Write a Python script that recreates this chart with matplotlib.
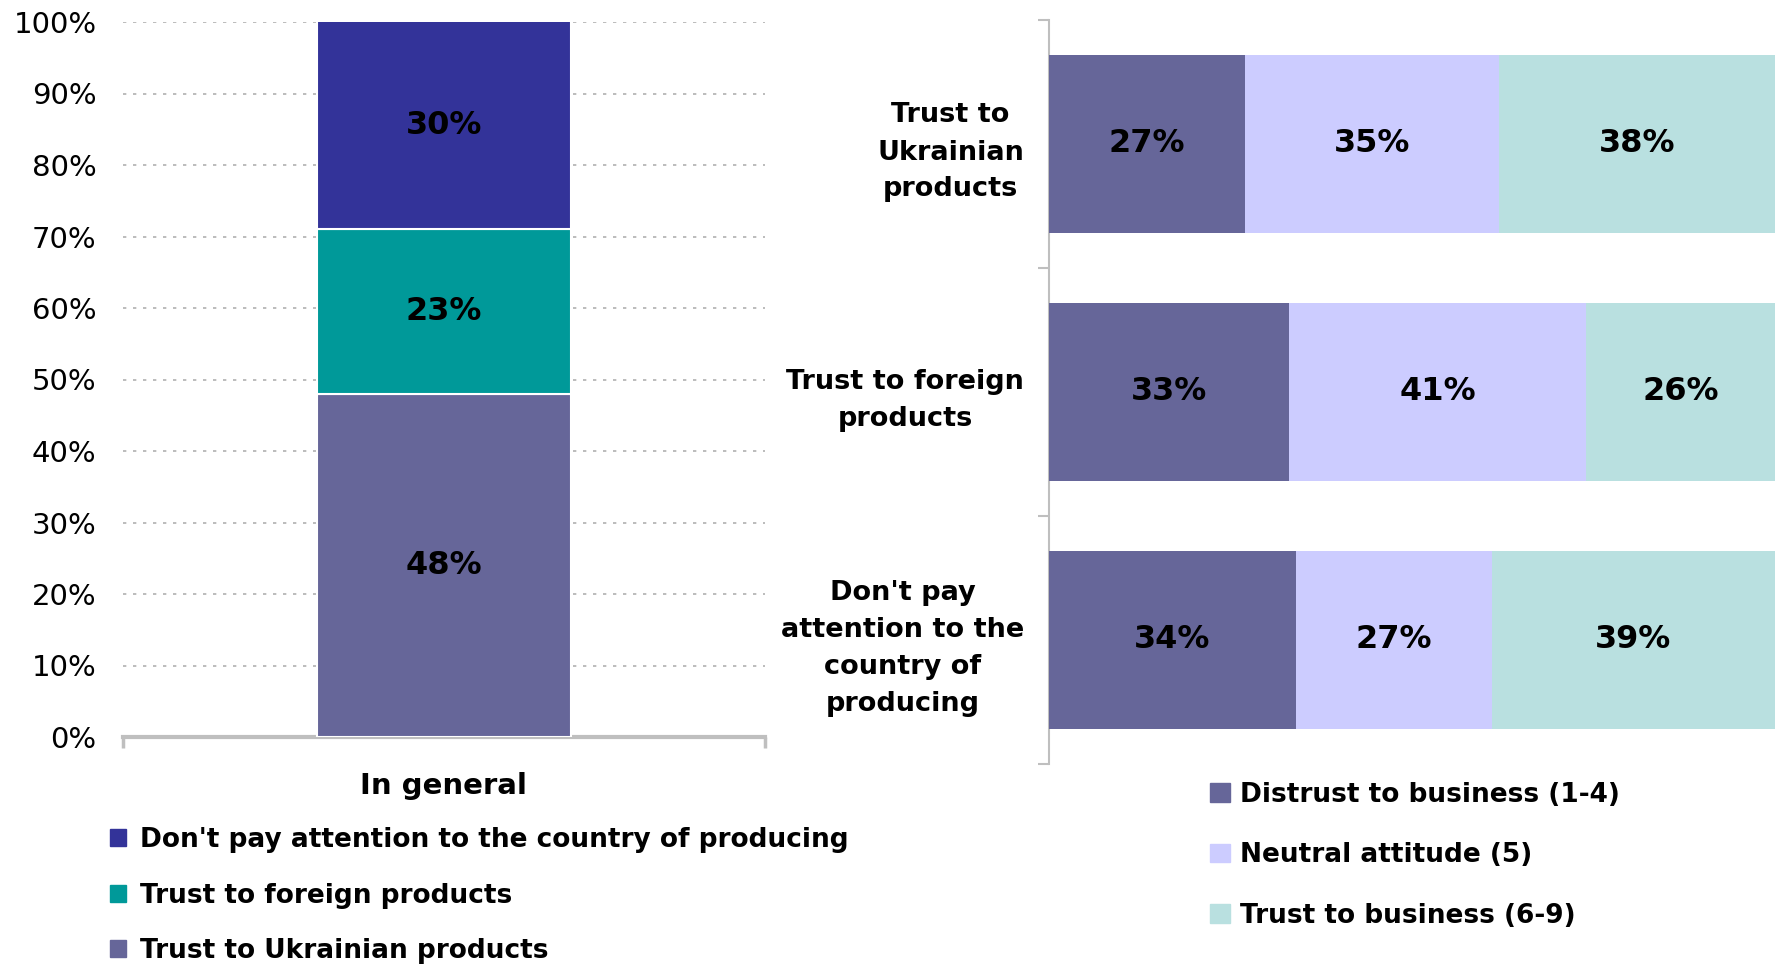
import matplotlib
matplotlib.use("Agg")
import matplotlib.pyplot as plt
from matplotlib.patches import Patch
from matplotlib.ticker import FixedLocator

plt.rcParams['font.family'] = ['DejaVu Sans']

# overall attitude (stacked column)
general_series = ["Trust to Ukrainian products", "Trust to foreign products",
                  "Don't pay attention to the country of producing"]
general_values = [48, 23, 30]
general_colors = ["#666699", "#009999", "#333399"]

# trust to business by group (stacked bars)
groups = ["Trust to\nUkrainian\nproducts", "Trust to foreign\nproducts",
          "Don't pay\nattention to the\ncountry of\nproducing"]
distrust = [27, 33, 34]
neutral = [35, 41, 27]
trusting = [38, 26, 39]
business_series = ["Distrust to business (1-4)", "Neutral attitude (5)", "Trust to business (6-9)"]
business_colors = ["#666699", "#CCCCFF", "#B9E0E0"]

W, H = 1775, 966
fig = plt.figure(figsize=(W / 100, H / 100), dpi=100)
grey = "#BFBFBF"

# ---- left: column chart ----
ax1 = fig.add_axes([123 / W, 1 - 737 / H, 642 / W, 715 / H])
bottom = 0
for name, v, c in zip(general_series, general_values, general_colors):
    bars = ax1.bar([0], [v], bottom=bottom, width=0.396, color=c,
                   edgecolor="white", linewidth=1.5, label=name, zorder=3)
    ax1.bar_label(bars, labels=[f"{v}%"], label_type="center",
                  fontsize=23, fontweight="bold", color="black")
    bottom += v

ax1.set_xlim(-0.5, 0.5)
ax1.set_ylim(0, 100)
ax1.set_yticks(range(0, 101, 10))
ax1.set_yticklabels([f"{t}%" for t in range(0, 101, 10)], fontsize=21)
ax1.tick_params(axis="y", length=0, pad=19)
ax1.yaxis.grid(True, linestyle=(0, (2, 4)), color="#B0B0B0", linewidth=1.2, zorder=0)
ax1.set_xticks([0])
ax1.set_xticklabels(["In general"], fontsize=21, fontweight="bold")
ax1.tick_params(axis="x", which="major", length=0, pad=25)
ax1.xaxis.set_minor_locator(FixedLocator([-0.5, 0.5]))
ax1.tick_params(axis="x", which="minor", length=8, width=2.5, color=grey, direction="out")
for s in ["left", "right", "top"]:
    ax1.spines[s].set_visible(False)
ax1.spines["bottom"].set_color(grey)
ax1.spines["bottom"].set_linewidth(3)

handles1 = [Patch(color=c, label=n) for n, c in zip(general_series, general_colors)][::-1]
fig.legend(handles=handles1, loc="upper left", bbox_to_anchor=(110 / W, 1 - 827 / H),
           frameon=False, prop={"weight": "bold", "size": 19},
           handlelength=0.62, handleheight=0.62, handletextpad=0.5,
           labelspacing=1.12, borderpad=0, borderaxespad=0)

# ---- right: horizontal bar chart ----
ax2 = fig.add_axes([1049 / W, 1 - 764 / H, 726 / W, 744 / H])
ypos = list(range(len(groups)))
left = [0] * len(groups)
for name, vals, c in zip(business_series, [distrust, neutral, trusting], business_colors):
    bars = ax2.barh(ypos, vals, left=left, height=0.72, color=c, label=name, zorder=3)
    ax2.bar_label(bars, labels=[f"{v}%" for v in vals], label_type="center",
                  fontsize=23, fontweight="bold", color="black")
    left = [a + b for a, b in zip(left, vals)]

ax2.set_xlim(0, 100)
ax2.set_ylim(len(groups) - 0.5, -0.5)
ax2.set_xticks([])
ax2.set_yticks(ypos)
ax2.set_yticklabels(groups, fontsize=19.5, fontweight="bold",
                    multialignment="center", linespacing=1.55)
ax2.tick_params(axis="y", which="major", length=0, pad=18)
ax2.yaxis.set_minor_locator(FixedLocator([-0.5, 0.5, 1.5, 2.5]))
ax2.tick_params(axis="y", which="minor", length=8, width=1.5, color=grey, direction="out")
for s in ["right", "top", "bottom"]:
    ax2.spines[s].set_visible(False)
ax2.spines["left"].set_color(grey)
ax2.spines["left"].set_linewidth(1.5)

handles2 = [Patch(color=c, label=n) for n, c in zip(business_series, business_colors)]
fig.legend(handles=handles2, loc="upper left", bbox_to_anchor=(1210 / W, 1 - 782 / H),
           frameon=False, prop={"weight": "bold", "size": 19},
           handlelength=0.75, handleheight=0.72, handletextpad=0.4,
           labelspacing=1.3, borderpad=0, borderaxespad=0)

fig.savefig("out.png", dpi=100)
